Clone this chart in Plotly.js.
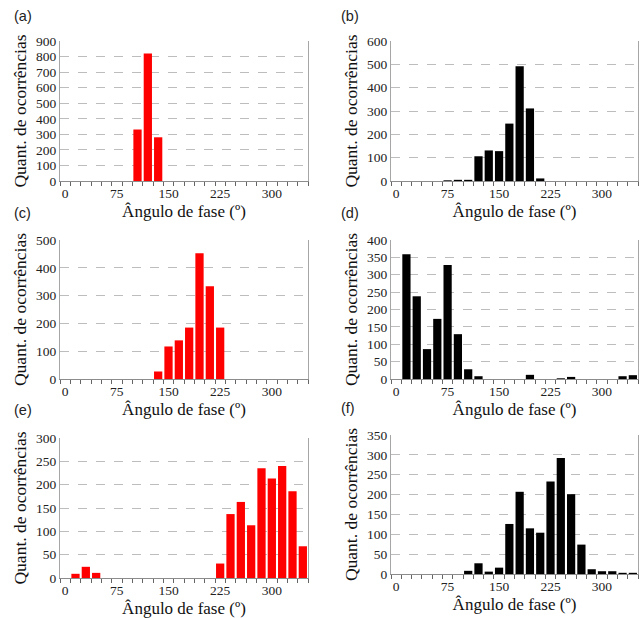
<!DOCTYPE html>
<html>
<head>
<meta charset="utf-8">
<script src="https://cdn.plot.ly/plotly-3.0.1.min.js"></script>
<style>html,body{margin:0;padding:0;background:#fff;}#chart{width:642px;height:618px;}</style>
</head>
<body>
<div id="chart"></div>
<script>
// Bin centres (phase angle, degrees)
const angles = [0,15,30,45,60,75,90,105,120,135,150,165,180,195,210,225,240,255,270,285,300,315,330,345];
const xTickVals = [0,75,150,225,300];
const xTickText = ['0','75','150','225','300'];

// Occurrence counts per panel
const countsA = [0,0,0,0,0,0,0,331,820,281,0,0,0,0,0,0,0,0,0,0,0,0,0,0];
const countsB = [0,0,0,0,0,3,5,5,106,131,128,246,492,311,11,0,0,0,0,0,0,0,0,0];
const countsC = [0,0,0,0,0,0,0,0,0,27,117,139,185,452,334,185,0,0,0,0,0,0,0,0];
const countsD = [0,359,238,86,173,328,129,28,8,0,0,0,0,12,0,0,2,6,0,0,0,0,8,11];
const countsE = [0,9,24,11,0,0,0,0,0,0,0,0,0,0,0,31,137,163,113,235,213,240,186,68];
const countsF = [0,0,0,0,0,0,0,8,27,6,16,126,207,115,104,233,292,201,74,12,7,7,3,3];

const panelLabels = ['(a)','(b)','(c)','(d)','(e)','(f)'];
const yTitle = 'Quant. de ocorrências';
const xTitle = 'Ângulo de fase (º)';

const W = 642, H = 618;
const panels = [
  {counts: countsA, color: '#ff0000', ymax: 900, dtick: 100, box: [60, 308, 41, 181], lab: [12, 16]},
  {counts: countsB, color: '#000000', ymax: 600, dtick: 100, box: [391, 638, 41, 181], lab: [339, 16]},
  {counts: countsC, color: '#ff0000', ymax: 500, dtick: 100, box: [60, 308, 240, 379], lab: [12, 213]},
  {counts: countsD, color: '#000000', ymax: 400, dtick: 50, box: [391, 638, 240, 379], lab: [339, 213]},
  {counts: countsE, color: '#ff0000', ymax: 300, dtick: 50, box: [60, 308, 438, 578], lab: [12, 410]},
  {counts: countsF, color: '#000000', ymax: 350, dtick: 50, box: [391, 638, 435, 574], lab: [339, 408]}
];

const serif = 'Liberation Serif, Times New Roman, serif';
const traces = [];
const layout = {
  width: W, height: H,
  margin: {l: 0, r: 0, t: 0, b: 0},
  paper_bgcolor: '#fff', plot_bgcolor: '#fff',
  showlegend: false,
  bargap: 0.2,
  font: {family: serif, size: 13, color: '#222'},
  annotations: []
};

panels.forEach((p, i) => {
  const n = i === 0 ? '' : String(i + 1);
  traces.push({
    type: 'bar', x: angles, y: p.counts,
    xaxis: 'x' + n, yaxis: 'y' + n,
    marker: {color: p.color, line: {width: 0}},
    hoverinfo: 'x+y'
  });
  const [x0, x1, yt, yb] = p.box;
  layout['xaxis' + n] = {
    domain: [x0 / W, x1 / W],
    anchor: 'y' + n,
    range: [-7.5, 352.5],
    tickmode: 'array', tickvals: xTickVals, ticktext: xTickText,
    ticks: '',
    minor: {tick0: -7.5, dtick: 15, ticks: 'outside', ticklen: 4, tickcolor: '#666', tickwidth: 1, showgrid: false},
    showline: true, linecolor: '#8c8c8c', linewidth: 1.2, mirror: false,
    showgrid: false, zeroline: false,
    tickfont: {family: serif, size: 13.5, color: '#222'},
    title: {text: xTitle, font: {family: serif, size: 17, color: '#111'}, standoff: 4},
    fixedrange: true
  };
  layout['yaxis' + n] = {
    domain: [1 - yb / H, 1 - yt / H],
    anchor: 'x' + n,
    range: [0, p.ymax], dtick: p.dtick, tick0: 0,
    showgrid: true, gridcolor: '#bdbdbd', griddash: 'dash', gridwidth: 1,
    zeroline: false,
    showline: true, linecolor: '#a6a6a6', linewidth: 1, mirror: true,
    ticks: '', ticklen: 0,
    tickfont: {family: serif, size: 13.5, color: '#222'},
    title: {text: yTitle, font: {family: serif, size: 17.5, color: '#111'}, standoff: 4},
    fixedrange: true
  };
  layout.annotations.push({
    text: panelLabels[i], xref: 'paper', yref: 'paper',
    x: p.lab[0] / W, y: 1 - p.lab[1] / H,
    xanchor: 'left', yanchor: 'middle', showarrow: false,
    font: {family: 'Liberation Sans, Arial, sans-serif', size: 14.5, color: '#222'}
  });
});

Plotly.newPlot('chart', traces, layout, {displayModeBar: false, staticPlot: true});
</script>
</body>
</html>
